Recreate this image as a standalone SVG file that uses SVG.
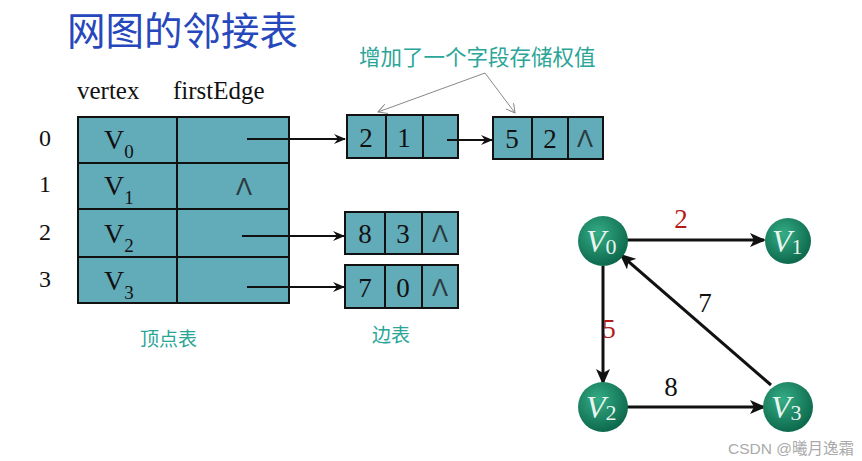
<svg xmlns="http://www.w3.org/2000/svg" width="862" height="461" viewBox="0 0 862 461">
<style>
.cell{fill:#62abb9;stroke:#111;stroke-width:2}
.num{font-family:"Liberation Serif",serif;font-size:27px;fill:#111;text-anchor:middle}
.idx{font-family:"Liberation Serif",serif;font-size:24px;fill:#111;text-anchor:middle}
.vx{font-family:"Liberation Serif",serif;font-size:28px;fill:#111}
.sub{font-size:19px}
.nul{font-family:"Liberation Sans",sans-serif;font-size:24px;fill:#2a3a3e;text-anchor:middle}
.cn{font-family:"Noto Sans CJK SC",sans-serif;fill:#2aa597}
.link{stroke:#111;stroke-width:2;fill:none}
.gl{stroke:#888;stroke-width:1;fill:none}
.ge{stroke:#111;stroke-width:3;fill:none}
.gn{font-family:"Liberation Serif",serif;font-style:italic;font-size:32px;fill:#e8f5ef}
.gs{font-style:normal;font-size:22px}
.wt{font-family:"Liberation Serif",serif;font-size:27px;text-anchor:middle}
</style>
<defs>
<marker id="ah" markerWidth="12" markerHeight="10" refX="11" refY="5" orient="auto" markerUnits="userSpaceOnUse"><path d="M0,0 L12,5 L0,10 L4,5 Z" fill="#111"/></marker>
<marker id="ga" markerWidth="10" markerHeight="10" refX="9" refY="5" orient="auto" markerUnits="userSpaceOnUse"><path d="M0,0 L9,5 L0,10" fill="none" stroke="#888" stroke-width="1"/></marker>
<marker id="gh" markerWidth="16" markerHeight="14" refX="14" refY="7" orient="auto" markerUnits="userSpaceOnUse"><path d="M0,0 L16,7 L0,14 L4,7 Z" fill="#111"/></marker>
<radialGradient id="ball" cx="0.4" cy="0.35" r="0.7"><stop offset="0" stop-color="#35ad85"/><stop offset="1" stop-color="#0a6449"/></radialGradient>
</defs>
<rect width="862" height="461" fill="#fff"/>
<text x="67" y="45" font-family="Noto Sans CJK SC,sans-serif" font-size="38.5" fill="#2748bd">网图的邻接表</text>
<text x="77" y="99" font-family="Liberation Serif,serif" font-size="25" fill="#111">vertex</text>
<text x="173" y="99" font-family="Liberation Serif,serif" font-size="25" fill="#111">firstEdge</text>
<text x="359" y="65" class="cn" font-size="21.5">增加了一个字段存储权值</text>
<g id="vertexTable">
<rect class="cell" x="78" y="117" width="99" height="46"/><rect class="cell" x="177" y="117" width="112" height="46"/>
<rect class="cell" x="78" y="163" width="99" height="46"/><rect class="cell" x="177" y="163" width="112" height="46"/>
<rect class="cell" x="78" y="209" width="99" height="48"/><rect class="cell" x="177" y="209" width="112" height="48"/>
<rect class="cell" x="78" y="257" width="99" height="46"/><rect class="cell" x="177" y="257" width="112" height="46"/>
<text class="idx" x="45" y="146">0</text><text class="idx" x="45" y="192">1</text><text class="idx" x="45" y="240">2</text><text class="idx" x="45" y="287">3</text>
<text class="vx" x="104" y="149">V<tspan class="sub" dy="9">0</tspan></text>
<text class="vx" x="104" y="195">V<tspan class="sub" dy="9">1</tspan></text>
<text class="vx" x="104" y="243">V<tspan class="sub" dy="9">2</tspan></text>
<text class="vx" x="104" y="290">V<tspan class="sub" dy="9">3</tspan></text>
<text class="nul" x="244" y="195">Λ</text>
<text class="cn" x="140" y="346" font-size="19">顶点表</text>
</g>
<g id="edge21">
<rect class="cell" x="347" y="115" width="39" height="43"/><rect class="cell" x="386" y="115" width="37" height="43"/><rect class="cell" x="423" y="115" width="35" height="43"/>
<text class="num" x="366" y="147">2</text><text class="num" x="404" y="147">1</text>
</g>
<g id="edge52">
<rect class="cell" x="493" y="117" width="39" height="42"/><rect class="cell" x="532" y="117" width="36" height="42"/><rect class="cell" x="568" y="117" width="35" height="42"/>
<text class="num" x="512" y="148">5</text><text class="num" x="550" y="148">2</text><text class="nul" x="585" y="147">Λ</text>
</g>
<g id="edge83">
<rect class="cell" x="345" y="212" width="40" height="42"/><rect class="cell" x="385" y="212" width="37" height="42"/><rect class="cell" x="422" y="212" width="36" height="42"/>
<text class="num" x="365" y="243">8</text><text class="num" x="403" y="243">3</text><text class="nul" x="440" y="242">Λ</text>
</g>
<g id="edge70">
<rect class="cell" x="345" y="265" width="40" height="43"/><rect class="cell" x="385" y="265" width="37" height="43"/><rect class="cell" x="422" y="265" width="36" height="43"/>
<text class="num" x="365" y="297">7</text><text class="num" x="403" y="297">0</text><text class="nul" x="440" y="296">Λ</text>
<text class="cn" x="372" y="342" font-size="19">边表</text>
</g>
<g id="connectors">
<line class="link" x1="247" y1="139" x2="345" y2="139" marker-end="url(#ah)"/>
<line class="link" x1="447" y1="140" x2="492" y2="140" marker-end="url(#ah)"/>
<line class="link" x1="242" y1="236" x2="344" y2="236" marker-end="url(#ah)"/>
<line class="link" x1="247" y1="287" x2="344" y2="287" marker-end="url(#ah)"/>
<line class="gl" x1="485" y1="73" x2="378" y2="112" marker-end="url(#ga)"/>
<line class="gl" x1="485" y1="73" x2="515" y2="113" marker-end="url(#ga)"/>
<line class="ge" x1="627" y1="240" x2="764" y2="240" marker-end="url(#gh)"/>
<line class="ge" x1="603" y1="266" x2="603" y2="383" marker-end="url(#gh)"/>
<line class="ge" x1="627" y1="407" x2="764" y2="407" marker-end="url(#gh)"/>
<line class="ge" x1="771" y1="385" x2="621" y2="255" marker-end="url(#gh)"/>
<text class="wt" x="681" y="228" fill="#b31b1b">2</text>
<text class="wt" x="609" y="338" fill="#b31b1b">5</text>
<text class="wt" x="671" y="396" fill="#111">8</text>
<text class="wt" x="705" y="312" fill="#111">7</text>
</g>
<g id="V0"><circle cx="603" cy="241" r="25" fill="url(#ball)"/><text class="gn" x="586" y="252">V<tspan class="gs" dy="2">0</tspan></text></g>
<g id="V1"><circle cx="788" cy="241" r="23" fill="url(#ball)"/><text class="gn" x="772" y="252">V<tspan class="gs" dy="2">1</tspan></text></g>
<g id="V2"><circle cx="603" cy="407" r="25" fill="url(#ball)"/><text class="gn" x="586" y="418">V<tspan class="gs" dy="2">2</tspan></text></g>
<g id="V3"><circle cx="788" cy="407" r="25" fill="url(#ball)"/><text class="gn" x="771" y="418">V<tspan class="gs" dy="2">3</tspan></text></g>
<text x="728" y="454" font-family="Liberation Sans,Noto Sans CJK SC,sans-serif" font-size="15.5" fill="#aaa">CSDN @曦月逸霜</text>
</svg>
